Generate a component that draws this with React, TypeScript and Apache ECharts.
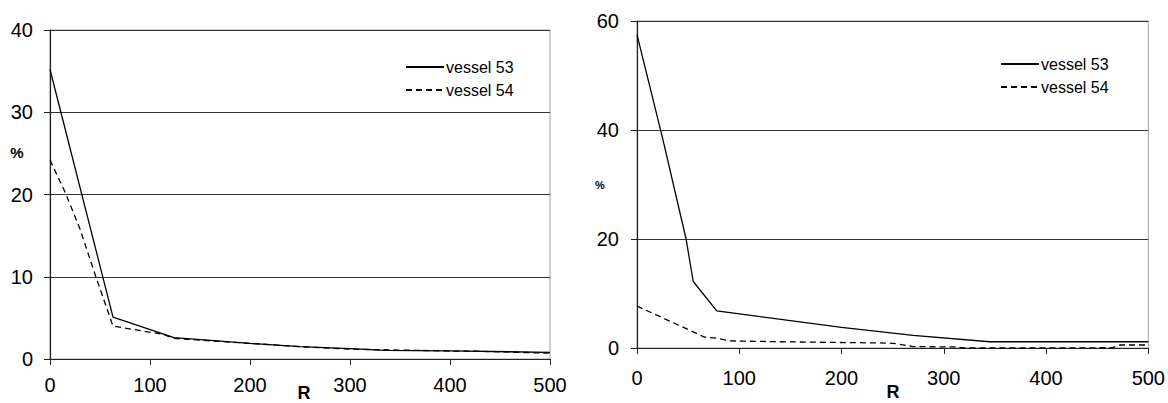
import React, { useEffect, useRef } from "react";
import * as echarts from "echarts";

// Left panel data (R vs %)
const left53R = [0, 63, 124, 200, 250, 300, 335, 400, 500];
const left53P = [35.2, 5.1, 2.6, 1.9, 1.5, 1.25, 1.05, 1.0, 0.8];
const left54R = [0, 15, 30, 45, 63, 113, 124, 200, 250, 300, 400, 425, 500];
const left54P = [24.2, 20.3, 15.8, 10.3, 4.0, 3.0, 2.5, 1.9, 1.5, 1.2, 0.97, 0.95, 0.7];

// Right panel data
const right53R = [0, 25, 48, 55, 78, 200, 270, 345, 500];
const right53P = [57.5, 38.5, 20, 12.2, 6.8, 3.8, 2.3, 1.15, 1.15];
const right54R = [0, 66, 78, 90, 140, 247, 255, 270, 310, 320, 390, 465, 472, 500];
const right54P = [7.7, 2.0, 1.8, 1.3, 1.15, 0.9, 0.75, 0.25, 0.2, 0, 0, 0.05, 0.55, 0.55];

const seriesNames = ["vessel 53", "vessel 54"];
const leftYTicks = { min: 0, max: 40, interval: 10 };
const rightYTicks = { min: 0, max: 60, interval: 20 };
const xTicks = { min: 0, max: 500, interval: 100 };

const FONT = '"Liberation Sans", Arial, sans-serif';

const zip = (xs: number[], ys: number[]) => xs.map((x, i) => [x, ys[i]]);

export default function App() {
  const ref = useRef<HTMLDivElement>(null);
  useEffect(() => {
    if (!ref.current) return;
    const chart = echarts.init(ref.current, undefined, { renderer: "svg" });
    const xAxisBase = (gridIndex: number, margin: number) => ({
      type: "value",
      gridIndex,
      min: xTicks.min,
      max: xTicks.max,
      interval: xTicks.interval,
      axisLine: { show: true, onZero: false, lineStyle: { color: "#222", width: 1.2 } },
      axisTick: { show: true, length: 6, lineStyle: { color: "#222" } },
      axisLabel: { color: "#000", fontSize: 20, fontFamily: FONT, margin },
      splitLine: { show: false },
    });
    const yAxisBase = (gridIndex: number, t: any, margin: number) => ({
      type: "value",
      gridIndex,
      min: t.min,
      max: t.max,
      interval: t.interval,
      axisLine: { show: true, lineStyle: { color: "#222", width: 1.2 } },
      axisTick: { show: true, length: 6, lineStyle: { color: "#222" } },
      axisLabel: { color: "#000", fontSize: 20, fontFamily: FONT, margin },
      splitLine: { show: true, lineStyle: { color: "#333", width: 1 } },
    });
    const solid = { color: "#000", width: 1.3, type: "solid" };
    const dashed = { color: "#000", width: 1.3, type: [6, 4] };
    const legendBase = (left: number, top: number) => ({
      left,
      top,
      orient: "vertical",
      itemWidth: 38,
      itemHeight: 14,
      itemGap: 7,
      data: seriesNames,
      itemStyle: { opacity: 0 },
      textStyle: { color: "#000", fontSize: 16, fontFamily: FONT, padding: [0, 0, 0, -3] },
      selectedMode: false,
    });
    chart.setOption({
      animation: false,
      backgroundColor: "#fff",
      grid: [
        { left: 50, top: 30, width: 500, height: 329, show: true, borderColor: "#a0a0a0", borderWidth: 1 },
        { left: 637, top: 21, width: 513, height: 327, show: true, borderColor: "#a0a0a0", borderWidth: 1 },
      ],
      xAxis: [xAxisBase(0, 16), xAxisBase(1, 20)],
      yAxis: [yAxisBase(0, leftYTicks, 17), yAxisBase(1, rightYTicks, 18)],
      legend: [legendBase(400, 54), legendBase(995, 51)],
      series: [
        { name: seriesNames[0], type: "line", xAxisIndex: 0, yAxisIndex: 0, data: zip(left53R, left53P), symbol: "none", lineStyle: solid, itemStyle: { color: "#000" } },
        { name: seriesNames[1], type: "line", xAxisIndex: 0, yAxisIndex: 0, data: zip(left54R, left54P), symbol: "none", lineStyle: dashed, itemStyle: { color: "#000" } },
        { name: seriesNames[0], type: "line", xAxisIndex: 1, yAxisIndex: 1, data: zip(right53R, right53P), symbol: "none", lineStyle: solid, itemStyle: { color: "#000" } },
        { name: seriesNames[1], type: "line", xAxisIndex: 1, yAxisIndex: 1, data: zip(right54R, right54P), symbol: "none", lineStyle: dashed, itemStyle: { color: "#000" } },
      ],
      graphic: [
        { type: "text", x: 17, y: 152, style: { text: "%", align: "center", verticalAlign: "middle", font: `bold 15px ${FONT}`, fill: "#000" } },
        { type: "text", x: 600, y: 185, style: { text: "%", align: "center", verticalAlign: "middle", font: `bold 11px ${FONT}`, fill: "#000" } },
        { type: "text", x: 304, y: 393, style: { text: "R", align: "center", verticalAlign: "middle", font: `bold 18px ${FONT}`, fill: "#000" } },
        { type: "text", x: 893, y: 392, style: { text: "R", align: "center", verticalAlign: "middle", font: `bold 18px ${FONT}`, fill: "#000" } },
      ],
    });
    return () => chart.dispose();
  }, []);
  return (
    <div
      ref={ref}
      style={{ position: "fixed", left: 0, top: 0, width: 1168, height: 403, background: "#fff" }}
    />
  );
}
